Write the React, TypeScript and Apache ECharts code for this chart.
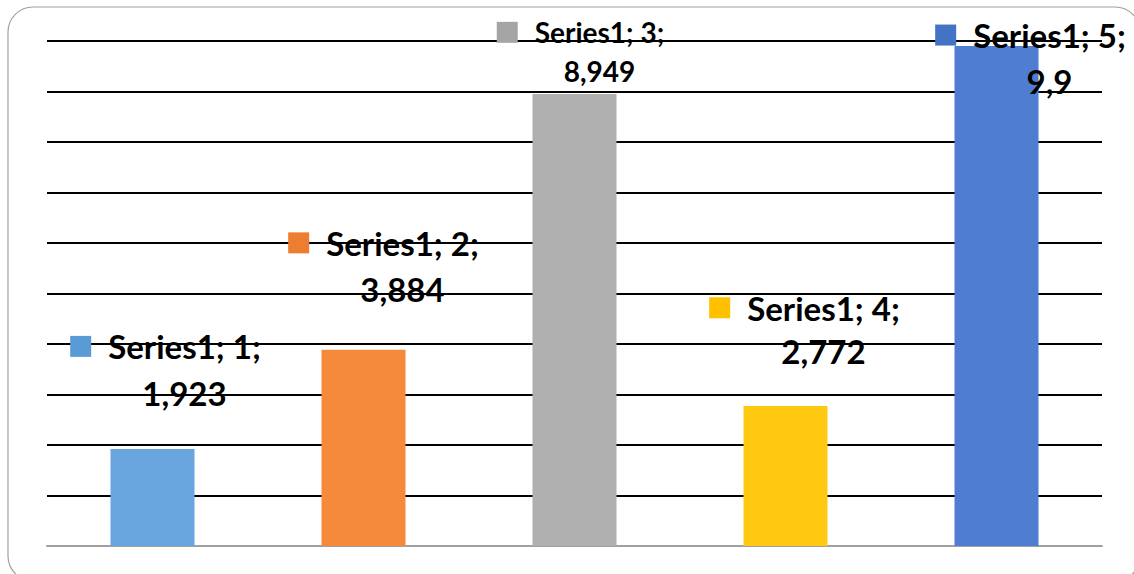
import React, { useEffect, useRef } from "react";
import * as echarts from "echarts";

const categories = ["1", "2", "3", "4", "5"];
const values = [1.923, 3.884, 8.949, 2.772, 9.9];
const valueLabels = ["1,923", "3,884", "8,949", "2,772", "9,9"];
const colors = ["#69A6E0", "#F68A3B", "#B0B0B0", "#FFC912", "#4E7DD1"];
const keyColors = ["#5B9BD5", "#ED7D31", "#A5A5A5", "#FFC000", "#4472C4"];
const labelOffsets: [number, number][] = [
  [13, -27],
  [20, -33],
  [6, 1],
  [19, -28],
  [34, 63],
];
const labelSizes = [33, 33, 28, 33, 33];
const labelLineHeights = [47, 46, 38.5, 43.5, 46];

export default function App() {
  const ref = useRef<HTMLDivElement>(null);
  useEffect(() => {
    if (!ref.current) return;
    const chart = echarts.init(ref.current, undefined, { renderer: "svg" });
    const font = "Lato";
    const data = values.map((v, i) => {
      const fs = labelSizes[i];
      const lh = labelLineHeights[i];
      const ks = 21;
      const gap = 17;
      return {
        value: v,
        itemStyle: { color: colors[i] },
        label: {
          show: true,
          position: "top",
          offset: labelOffsets[i],
          align: "center",
          formatter: `{k|}{g|}{t|Series1; ${categories[i]};}\n{s|}{t|${valueLabels[i]}}`,
          rich: {
            k: { width: ks, height: ks, backgroundColor: keyColors[i], lineHeight: lh },
            g: { width: gap, height: 1, lineHeight: lh },
            s: { width: ks + gap, height: 1, lineHeight: lh },
            t: {
              fontFamily: font,
              fontWeight: "bold",
              fontSize: fs,
              color: "#000000",
              lineHeight: lh,
            },
          },
        },
      };
    });
    chart.setOption({
      animation: false,
      backgroundColor: "#ffffff",
      grid: { left: 47, right: 32, top: 41, bottom: 28 },
      graphic: [
        {
          type: "rect",
          shape: { x: 8, y: 7, width: 1132, height: 574, r: 25 },
          style: { fill: "none", stroke: "#A0A0A0", lineWidth: 1.2 },
          z: -1,
        },
      ],
      xAxis: {
        type: "category",
        data: categories,
        axisLine: { show: true, lineStyle: { color: "#A0A0A0", width: 2 } },
        axisTick: { show: false },
        axisLabel: { show: false },
      },
      yAxis: {
        type: "value",
        min: 0,
        max: 10,
        interval: 1,
        axisLine: { show: false },
        axisTick: { show: false },
        axisLabel: { show: false },
        splitLine: { show: true, lineStyle: { color: "#000000", width: 2 } },
      },
      series: [
        {
          type: "bar",
          data,
          barWidth: 84,
          z: 2,
        },
      ],
    });
    return () => chart.dispose();
  }, []);
  return (
    <div
      ref={ref}
      style={{ position: "absolute", left: 0, top: 0, width: 1134, height: 574 }}
    />
  );
}
